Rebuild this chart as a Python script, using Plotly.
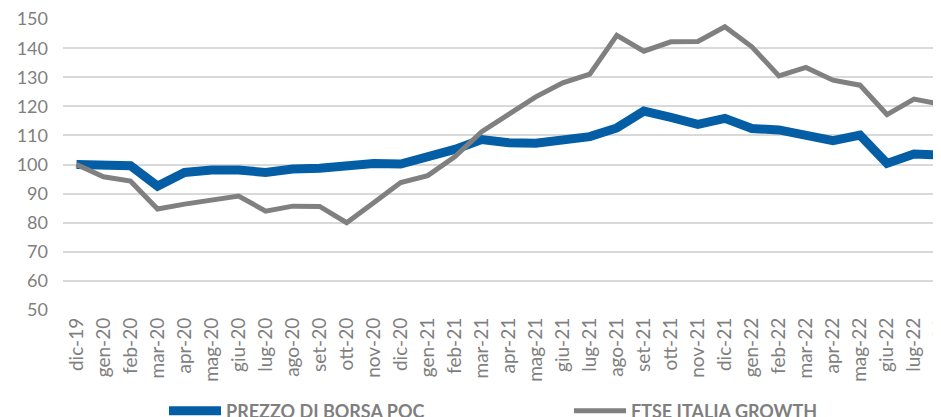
import plotly.graph_objects as go

categories = ["dic-19", "gen-20", "feb-20", "mar-20", "apr-20", "mag-20", "giu-20", "lug-20",
              "ago-20", "set-20", "ott-20", "nov-20", "dic-20", "gen-21", "feb-21", "mar-21",
              "apr-21", "mag-21", "giu-21", "lug-21", "ago-21", "set-21", "ott-21", "nov-21",
              "dic-21", "gen-22", "feb-22", "mar-22", "apr-22", "mag-22", "giu-22", "lug-22",
              "ago-22"]

prezzo_poc = [100.0, 100.0, 99.6, 92.6, 97.3, 98.1, 98.1, 97.3,
              98.5, 98.7, 99.8, 100.4, 100.2, 102.7, 105.2, 108.6,
              107.5, 107.3, 108.6, 109.6, 112.6, 118.4, 116.2, 113.8,
              115.9, 112.4, 111.9, 110.1, 108.2, 110.1, 100.4, 103.6,
              103.3]

ftse_growth = [100.0, 95.8, 94.3, 84.7, 86.4, 88.0, 89.2, 84.0,
               85.7, 85.6, 80.0, 86.9, 93.8, 96.2, 102.7, 111.3,
               117.4, 123.3, 128.1, 131.1, 144.4, 139.0, 142.2, 142.3,
               147.4, 140.5, 130.5, 133.4, 129.0, 127.3, 117.2, 122.5,
               120.7]

y_ticks = [50, 60, 70, 80, 90, 100, 110, 120, 130, 140, 150]

GREY_TEXT = "#7f7f7f"
FONT = "Lato"

fig = go.Figure()
fig.add_trace(go.Scatter(
    x=categories, y=prezzo_poc, mode="lines", name="PREZZO DI BORSA POC",
    line=dict(color="#045ea6", width=9), legend="legend"))
fig.add_trace(go.Scatter(
    x=categories, y=ftse_growth, mode="lines", name="FTSE ITALIA GROWTH",
    line=dict(color="#808080", width=5), legend="legend2"))

legend_font = dict(family=FONT, size=18, color=GREY_TEXT, weight="bold")
LEG_Y = (417 - 403) / 417

fig.update_layout(
    width=941, height=417,
    margin=dict(l=55, r=8, t=11, b=115),
    paper_bgcolor="white", plot_bgcolor="white",
    font=dict(family=FONT, color=GREY_TEXT, size=18),
    showlegend=True,
    legend=dict(orientation="h", xref="container", yref="container",
                x=156 / 941, xanchor="left", y=LEG_Y, yanchor="middle",
                font=legend_font, bgcolor="rgba(0,0,0,0)", itemwidth=52),
    legend2=dict(orientation="h", xref="container", yref="container",
                 x=561 / 941, xanchor="left", y=LEG_Y, yanchor="middle",
                 font=legend_font, bgcolor="rgba(0,0,0,0)", itemwidth=52),
)
fig.update_xaxes(
    type="category", range=[-0.5, 32], tickangle=-90, automargin=False,
    showgrid=False, showline=False, zeroline=False,
    tickfont=dict(family=FONT, size=19, color=GREY_TEXT),
    ticks="", ticklabelstandoff=3, ticklabeloverflow="allow",
)
fig.update_yaxes(
    range=[50, 150.05], tickvals=y_ticks, showgrid=True, gridcolor="#d9d9d9", gridwidth=1.5,
    zeroline=False, showline=False, ticks="", automargin=False,
    tickfont=dict(family=FONT, size=18, color=GREY_TEXT), ticklabelstandoff=14,
    ticklabeloverflow="allow",
)

fig.write_html("out.html")
